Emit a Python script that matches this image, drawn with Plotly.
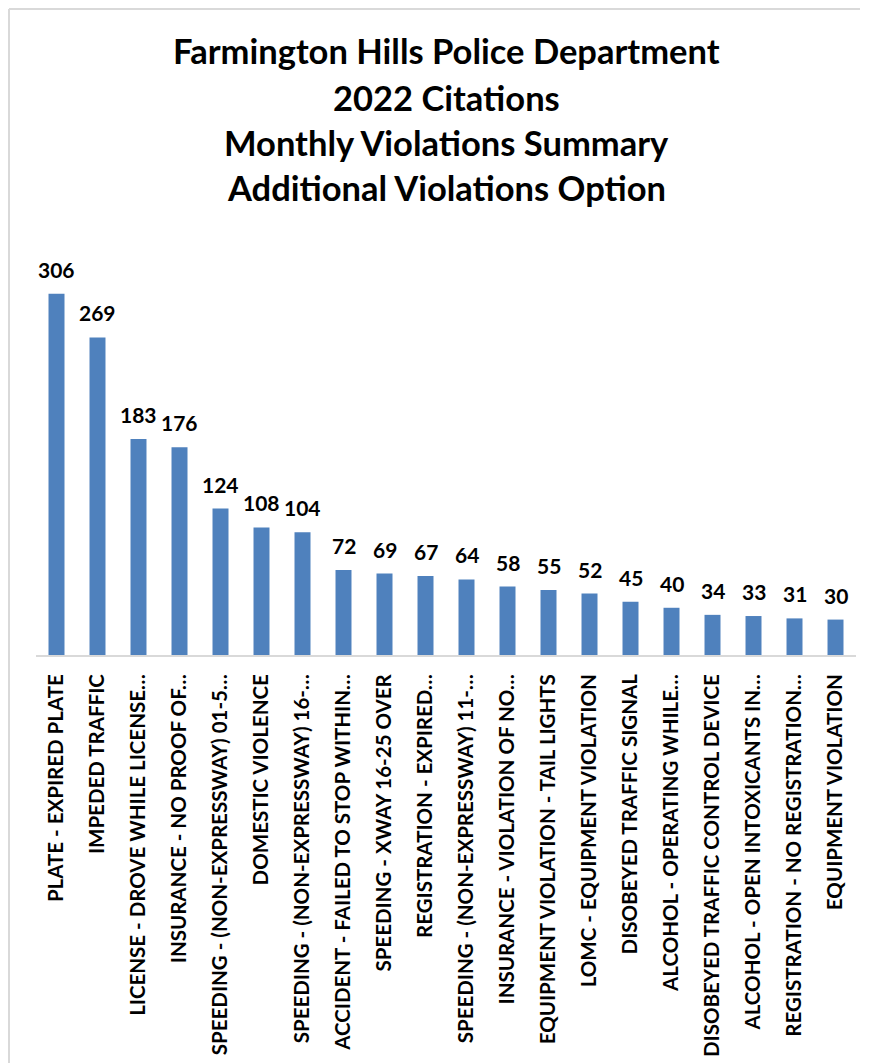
import plotly.graph_objects as go

# violation categories, as shown (truncated like the original)
categories = [
    "PLATE - EXPIRED PLATE",
    "IMPEDED TRAFFIC",
    "LICENSE - DROVE WHILE LICENSE…",
    "INSURANCE - NO PROOF OF…",
    "SPEEDING - (NON-EXPRESSWAY) 01-5…",
    "DOMESTIC VIOLENCE",
    "SPEEDING - (NON-EXPRESSWAY) 16-…",
    "ACCIDENT - FAILED TO STOP WITHIN…",
    "SPEEDING - XWAY 16-25 OVER",
    "REGISTRATION - EXPIRED…",
    "SPEEDING - (NON-EXPRESSWAY) 11-…",
    "INSURANCE - VIOLATION OF NO…",
    "EQUIPMENT VIOLATION - TAIL LIGHTS",
    "LOMC - EQUIPMENT VIOLATION",
    "DISOBEYED TRAFFIC SIGNAL",
    "ALCOHOL - OPERATING WHILE…",
    "DISOBEYED TRAFFIC CONTROL DEVICE",
    "ALCOHOL - OPEN INTOXICANTS IN…",
    "REGISTRATION - NO REGISTRATION…",
    "EQUIPMENT VIOLATION",
]
citations = [306, 269, 183, 176, 124, 108, 104, 72, 69, 67,
             64, 58, 55, 52, 45, 40, 34, 33, 31, 30]

title_lines = [
    "Farmington Hills Police Department",
    "2022 Citations",
    "Monthly Violations Summary",
    "Additional Violations Option",
]

W, H = 876, 1063
OFF = 8  # page body margin pushes the figure right/down
plot_left, plot_right = 36 - OFF, 856 - OFF
plot_top, plot_bottom = 250 - OFF, 655 - OFF
PW = plot_right - plot_left
PH = plot_bottom - plot_top
FONT = "Lato"


def px_x(x):
    return (x - OFF - plot_left) / PW


def px_y(y):
    return (plot_bottom - (y - OFF)) / PH


fig = go.Figure()

fig.add_trace(go.Bar(
    x=categories,
    y=citations,
    marker=dict(color="#4f81bd", line=dict(width=0)),
    width=0.39,
    showlegend=False,
))

# value labels above bars
for cat, val in zip(categories, citations):
    fig.add_annotation(
        x=cat, y=val, text=f"<b>{val}</b>",
        showarrow=False, yanchor="bottom", yshift=10,
        font=dict(family=FONT, size=21, color="black"),
    )

# title, one annotation per line to control spacing
title_y = [50, 97, 142, 187]
for line, ypix in zip(title_lines, title_y):
    fig.add_annotation(
        xref="paper", yref="paper",
        x=px_x(446), y=px_y(ypix),
        text=f"<b>{line}</b>", showarrow=False,
        xanchor="center", yanchor="middle",
        font=dict(family=FONT, size=34.5, color="black"),
    )

# chart frame (left and top edges visible)
fig.add_shape(type="line", xref="paper", yref="paper",
              x0=px_x(OFF + 1), x1=px_x(OFF + 1), y0=px_y(OFF + 1), y1=px_y(H + 20),
              line=dict(color="#d9d9d9", width=2))
fig.add_shape(type="line", xref="paper", yref="paper",
              x0=px_x(OFF + 1), x1=px_x(860), y0=px_y(OFF + 1), y1=px_y(OFF + 1),
              line=dict(color="#d9d9d9", width=2))

fig.update_xaxes(
    tickangle=-90,
    tickfont=dict(family=FONT, size=20.5, color="black", weight="bold"),
    showline=True, linecolor="#d9d9d9", linewidth=2,
    showgrid=False, ticks="", ticklabelstandoff=9,
    automargin=False,
)
fig.update_yaxes(
    visible=False, range=[0, 343], showgrid=False, zeroline=False,
)

fig.update_layout(
    width=W, height=H,
    margin=dict(l=plot_left, r=W - plot_right, t=plot_top, b=H - plot_bottom),
    plot_bgcolor="white", paper_bgcolor="white",
    bargap=0.6,
    font=dict(family=FONT),
)

fig.write_html("out.html")
